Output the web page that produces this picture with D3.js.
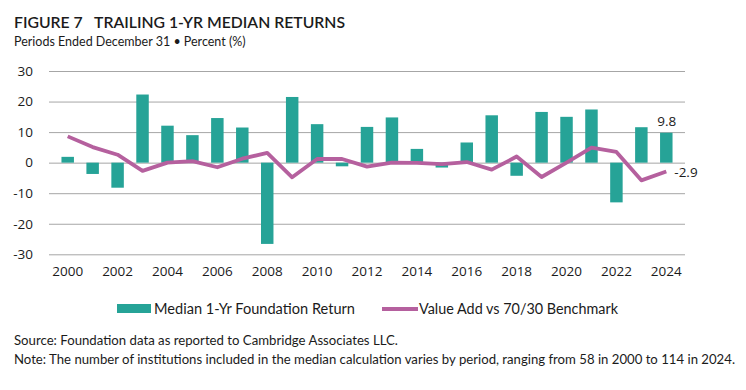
<!DOCTYPE html>
<html><head><meta charset="utf-8">
<script src="https://cdn.jsdelivr.net/npm/d3@7"></script>
<style>body{margin:0;background:#fff}svg{display:block}</style>
</head><body>
<svg id="c" width="746" height="390"></svg>
<script>
const years = d3.range(2000, 2025).map(String);
const medianReturn = [1.9,-3.7,-8.2,22.3,12.1,9.0,14.6,11.5,-26.6,21.5,12.6,-1.2,11.7,14.8,4.5,-1.6,6.6,15.5,-4.3,16.6,15.0,17.4,-13.0,11.6,9.8];
const valueAdd = [8.6,5.1,2.6,-2.7,0.0,0.5,-1.5,1.3,3.2,-4.8,1.2,1.2,-1.3,0.0,-0.1,-0.5,0.2,-2.3,2.0,-4.7,0.0,4.9,3.5,-5.8,-2.9];
const yTicks = [30,20,10,0,-10,-20,-30];
const xTickLabels = ["2000","2002","2004","2006","2008","2010","2012","2014","2016","2018","2020","2022","2024"];
const seriesNames = ["Median 1-Yr Foundation Return","Value Add vs 70/30 Benchmark"];

const teal = "#26a397", purple = "#b5609e", ink = "#1b1b1b";
const svg = d3.select("#c");
const x = d3.scaleBand().domain(years).range([49,685]).padding(0.5);
const y = d3.scaleLinear().domain([-30,30]).range([254.3,71]);

svg.append("text").attr("x",14).attr("y",27.5).attr("font-family","Lato, 'Open Sans', sans-serif")
  .attr("font-size",15.5).attr("font-weight",600).attr("fill",ink)
  .attr("textLength",331).attr("lengthAdjust","spacingAndGlyphs")
  .attr("xml:space","preserve").text("FIGURE 7   TRAILING 1-YR MEDIAN RETURNS");
svg.append("text").attr("x",14).attr("y",45.5).attr("font-family","Lato, 'Open Sans', sans-serif")
  .attr("font-size",12.5).attr("fill",ink).text("Periods Ended December 31 \u2022 Percent (%)");

// grid
const yAxis = d3.axisLeft(y).tickValues(yTicks).tickSize(-(685-49)).tickPadding(16).tickFormat(d=>String(d));
const gy = svg.append("g").attr("transform","translate(49,0)").call(yAxis);
gy.select(".domain").remove();
gy.selectAll(".tick line").attr("stroke","#a6a6a6").attr("stroke-width",1);
gy.selectAll(".tick text").attr("font-family","'Open Sans', sans-serif").attr("font-size",13.5).attr("fill",ink);

// bars
svg.append("g").selectAll("rect").data(medianReturn).join("rect")
  .attr("x",(d,i)=>x(years[i])).attr("width",x.bandwidth())
  .attr("y",d=>y(Math.max(0,d))).attr("height",d=>Math.abs(y(d)-y(0)))
  .attr("fill",teal);

// x axis labels
const xAxis = d3.axisBottom(x).tickValues(xTickLabels).tickSize(0).tickPadding(0);
const gx = svg.append("g").attr("transform","translate(0,266)").call(xAxis);
gx.select(".domain").remove();
gx.selectAll(".tick text").attr("font-family","'Open Sans', sans-serif").attr("font-size",13.5).attr("fill",ink);

// line
const line = d3.line().x((d,i)=>x(years[i])+x.bandwidth()/2).y(d=>y(d));
svg.append("path").datum(valueAdd).attr("d",line).attr("fill","none")
  .attr("stroke",purple).attr("stroke-width",3.8).attr("stroke-linejoin","round");

// value labels
const last = years.length-1;
svg.append("text").attr("x",x(years[last])+x.bandwidth()/2-9).attr("y",y(medianReturn[last])-7)
  .attr("font-family","'Open Sans', sans-serif").attr("font-size",13.5).attr("fill",ink).text(String(medianReturn[last]));
svg.append("text").attr("x",x(years[last])+x.bandwidth()/2+8).attr("y",y(valueAdd[last])+5)
  .attr("font-family","'Open Sans', sans-serif").attr("font-size",13.5).attr("fill",ink).text(String(valueAdd[last]));

// legend
const lg = svg.append("g").attr("font-family","'Source Sans Pro', Lato, sans-serif").attr("font-size",14.5).attr("fill",ink);
lg.append("rect").attr("x",117).attr("y",304).attr("width",34).attr("height",9).attr("fill",teal);
lg.append("text").attr("x",154).attr("y",314).attr("textLength",201).attr("lengthAdjust","spacingAndGlyphs").text(seriesNames[0]);
lg.append("line").attr("x1",382).attr("x2",418).attr("y1",309).attr("y2",309).attr("stroke",purple).attr("stroke-width",4);
lg.append("text").attr("x",419).attr("y",314).attr("textLength",199).attr("lengthAdjust","spacingAndGlyphs").text(seriesNames[1]);

// notes
const nt = svg.append("g").attr("font-family","Lato, sans-serif").attr("font-size",12.5).attr("fill",ink);
nt.append("text").attr("x",14).attr("y",345).attr("textLength",384).attr("lengthAdjust","spacingAndGlyphs")
  .text("Source: Foundation data as reported to Cambridge Associates LLC.");
nt.append("text").attr("x",14).attr("y",363.5).attr("textLength",721).attr("lengthAdjust","spacingAndGlyphs")
  .text("Note: The number of institutions included in the median calculation varies by period, ranging from 58 in 2000 to 114 in 2024.");
</script>
</body></html>
